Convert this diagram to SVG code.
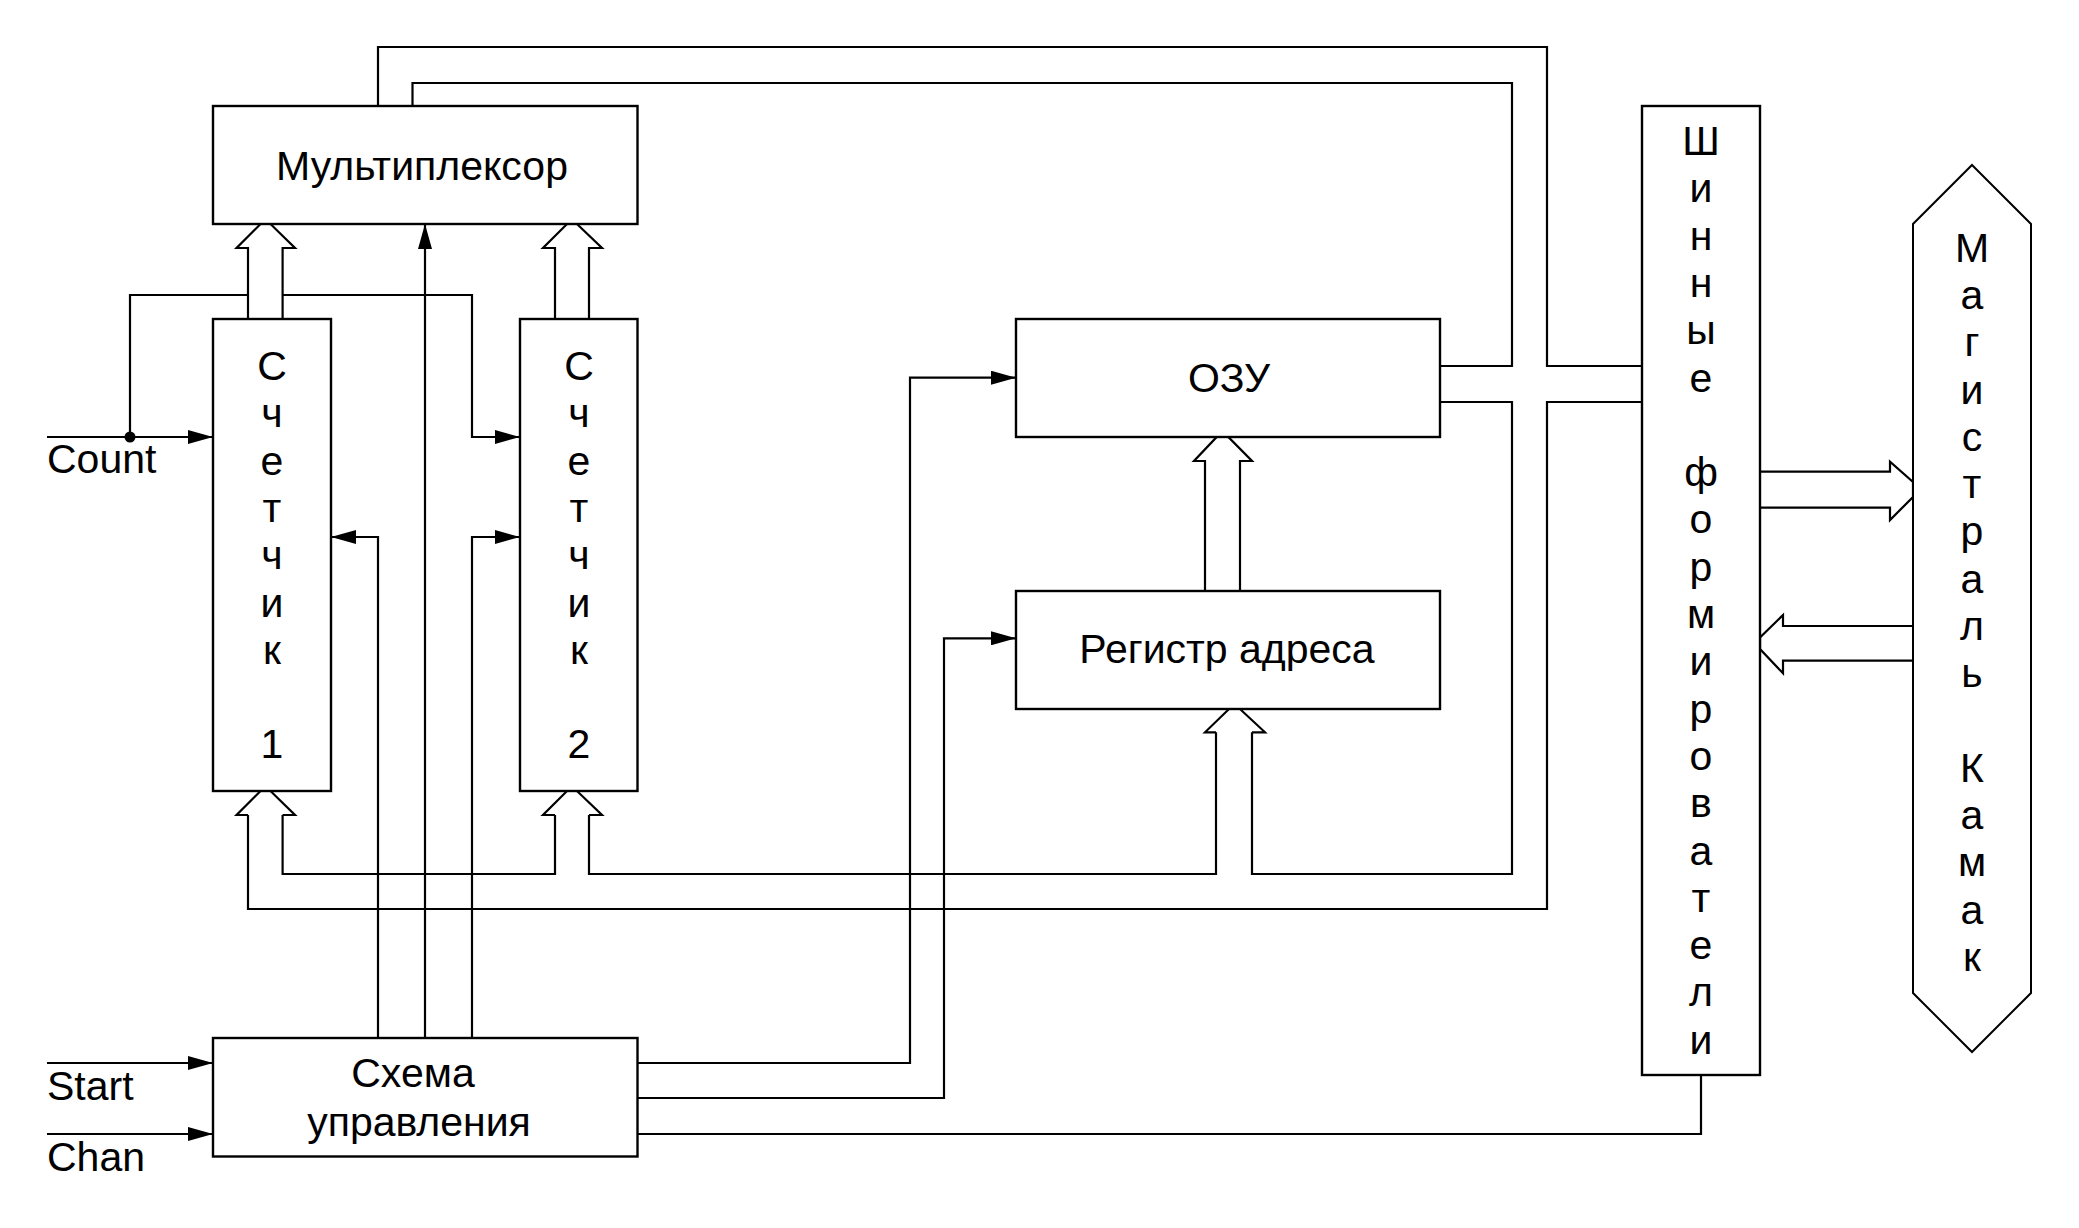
<svg xmlns="http://www.w3.org/2000/svg" width="2079" height="1228" viewBox="0 0 2079 1228">
<style>
.box{fill:#fff;stroke:#000;stroke-width:2.4}
.ln{fill:none;stroke:#000;stroke-width:2.2}
.ha{fill:#fff;stroke:#000;stroke-width:2.2;stroke-linejoin:miter}
.t{font-family:"Liberation Sans",Arial,sans-serif;font-size:41px;fill:#000;text-anchor:middle}
.tl{font-family:"Liberation Sans",Arial,sans-serif;font-size:41px;fill:#000}
</style>
<defs>
<marker id="ar" markerUnits="userSpaceOnUse" markerWidth="26" markerHeight="14" refX="25" refY="7" orient="auto">
<path d="M0,0 L25,7 L0,14 z" fill="#000"/>
</marker>
</defs>
<rect width="2079" height="1228" fill="#fff"/>
<g id="connectors">
<path class="ln" d="M282.6,815 V874 H555 V815"/>
<path class="ln" d="M589,815 V874 H1216 V732"/>
<path class="ln" d="M1252,732 V874 H1512 V402 H1440"/>
<path class="ln" d="M248,815 V909 H1547 V402 H1642"/>
<path class="ln" d="M378,106 V47 H1547 V366 H1642"/>
<path class="ln" d="M412.5,106 V83 H1512 V366 H1440"/>
<path class="ln" d="M425,1038 V224" marker-end="url(#ar)"/>
<path class="ln" d="M378,1038 V537 H331" marker-end="url(#ar)"/>
<path class="ln" d="M472,1038 V537 H520" marker-end="url(#ar)"/>
<path class="ln" d="M130,437 V295 H472 V437 H520" marker-end="url(#ar)"/>
<path class="ln" d="M47,437 H213" marker-end="url(#ar)"/>
<circle cx="130" cy="437" r="5.5" fill="#000"/>
<path class="ln" d="M47,1063 H213" marker-end="url(#ar)"/>
<path class="ln" d="M47,1134 H213" marker-end="url(#ar)"/>
<path class="ln" d="M637.5,1063 H910 V377.7 H1016" marker-end="url(#ar)"/>
<path class="ln" d="M637.5,1098 H944 V638.3 H1016" marker-end="url(#ar)"/>
<path class="ln" d="M637.5,1134 H1701 V1075"/>
<!-- hollow bus arrows -->
<path class="ha" d="M248,319 V248 H236.6 L260.5,224 H270.5 L295,248 H282.6 V319"/>
<path class="ha" d="M555,319 V248 H543 L567,224 H577 L602,248 H589 V319"/>
<path class="ha" d="M248,815 H236.6 L260.5,791 H270.5 L295,815 H282.6"/>
<path class="ha" d="M555,815 H543 L567,791 H577 L602,815 H589"/>
<path class="ha" d="M1205,590.7 V461 H1194 L1217,436.7 H1228 L1252,461 H1240 V590.7"/>
<path class="ha" d="M1216,732.3 H1205 L1229,709 H1240 L1265,732.3 H1252"/>
<path class="ha" d="M1760,471.7 H1890 V461.7 L1913,482 V497 L1890,520 V507.7 H1760"/>
<path class="ha" d="M1913,626 H1783 V615 L1760,637.5 V649 L1783,673.3 V660.7 H1913"/>
</g>
<g id="mux">
<rect class="box" x="213" y="106" width="424.5" height="118"/>
<text class="t" x="422" y="180">Мультиплексор</text>
</g>
<g id="counter1">
<rect class="box" x="213" y="319" width="118" height="472"/>
<text class="t"><tspan x="272" y="380">С</tspan><tspan x="272" y="427.3">ч</tspan><tspan x="272" y="474.6">е</tspan><tspan x="272" y="521.9">т</tspan><tspan x="272" y="569.2">ч</tspan><tspan x="272" y="616.5">и</tspan><tspan x="272" y="663.8">к</tspan><tspan x="272" y="758.4">1</tspan></text>
</g>
<g id="counter2">
<rect class="box" x="520" y="319" width="117.5" height="472"/>
<text class="t"><tspan x="579" y="380">С</tspan><tspan x="579" y="427.3">ч</tspan><tspan x="579" y="474.6">е</tspan><tspan x="579" y="521.9">т</tspan><tspan x="579" y="569.2">ч</tspan><tspan x="579" y="616.5">и</tspan><tspan x="579" y="663.8">к</tspan><tspan x="579" y="758.4">2</tspan></text>
</g>
<g id="ozu">
<rect class="box" x="1016" y="319" width="424" height="118"/>
<text class="t" x="1229" y="392">ОЗУ</text>
</g>
<g id="register">
<rect class="box" x="1016" y="591" width="424" height="118"/>
<text class="t" x="1227" y="663">Регистр адреса</text>
</g>
<g id="control">
<rect class="box" x="213" y="1038" width="424.5" height="118.5"/>
<text class="t" x="413" y="1087">Схема</text>
<text class="t" x="419" y="1136">управления</text>
</g>
<g id="bus-drivers">
<rect class="box" x="1642" y="106" width="118" height="969"/>
<text class="t"><tspan x="1701" y="155">Ш</tspan><tspan x="1701" y="202.3">и</tspan><tspan x="1701" y="249.6">н</tspan><tspan x="1701" y="296.9">н</tspan><tspan x="1701" y="344.2">ы</tspan><tspan x="1701" y="391.5">е</tspan><tspan x="1701" y="486.1">ф</tspan><tspan x="1701" y="533.4">о</tspan><tspan x="1701" y="580.7">р</tspan><tspan x="1701" y="628">м</tspan><tspan x="1701" y="675.3">и</tspan><tspan x="1701" y="722.6">р</tspan><tspan x="1701" y="769.9">о</tspan><tspan x="1701" y="817.2">в</tspan><tspan x="1701" y="864.5">а</tspan><tspan x="1701" y="911.8">т</tspan><tspan x="1701" y="959.1">е</tspan><tspan x="1701" y="1006.4">л</tspan><tspan x="1701" y="1053.7">и</tspan></text>
</g>
<g id="camac">
<polygon points="1972,165 2031,224 2031,993 1972,1052 1913,993 1913,224" fill="#fff" stroke="#000" stroke-width="2"/>
<text class="t"><tspan x="1972" y="261.7">М</tspan><tspan x="1972" y="309">а</tspan><tspan x="1972" y="356.2">г</tspan><tspan x="1972" y="403.5">и</tspan><tspan x="1972" y="450.8">с</tspan><tspan x="1972" y="498">т</tspan><tspan x="1972" y="545.3">р</tspan><tspan x="1972" y="592.6">а</tspan><tspan x="1972" y="639.9">л</tspan><tspan x="1972" y="687.1">ь</tspan><tspan x="1972" y="781.7">К</tspan><tspan x="1972" y="829">а</tspan><tspan x="1972" y="876.2">м</tspan><tspan x="1972" y="923.5">а</tspan><tspan x="1972" y="970.7">к</tspan></text>
</g>
<g id="labels">
<text class="tl" x="47" y="473">Count</text>
<text class="tl" x="47" y="1100">Start</text>
<text class="tl" x="47" y="1171">Chan</text>
</g>
</svg>
